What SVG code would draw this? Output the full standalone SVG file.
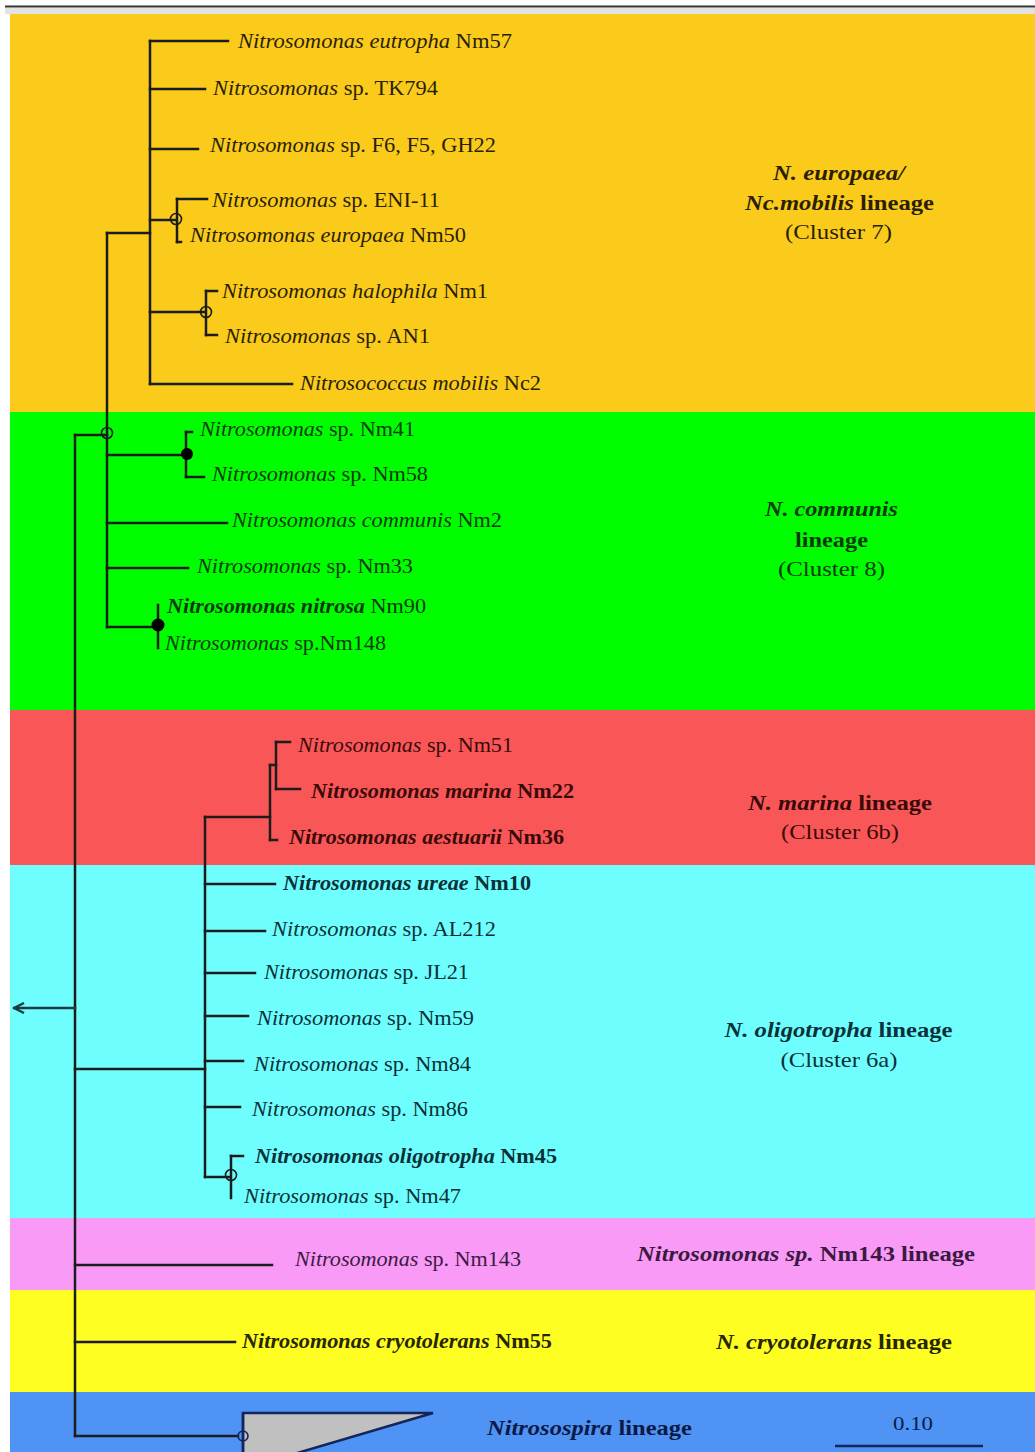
<svg xmlns="http://www.w3.org/2000/svg" width="1035" height="1452" viewBox="0 0 1035 1452">
<style>
  text { font-family: "Liberation Serif", "Times New Roman", serif; font-size: 22px; }
  .i { font-style: italic; }
  .b { font-weight: bold; }
  .bi { font-style: italic; font-weight: bold; }
  .mid { text-anchor: middle; }
  .br { stroke: #1c1c1c; stroke-width: 2.5; fill: none; stroke-linecap: square; }
  .nd { fill: none; stroke: #1c1c1c; stroke-width: 1.6; }
  .ndf { fill: #000; stroke: none; }
  .tor { fill: #2a1f05; } .tgr { fill: #0a3a0a; } .trd { fill: #3a0a0a; }
  .tcy { fill: #0a3038; } .tpk { fill: #3a1a40; } .tye { fill: #262600; } .tbl { fill: #0a1a45; }
</style>
<defs>
  <marker id="arr" viewBox="0 0 12 12" refX="11" refY="6" markerWidth="12" markerHeight="12" markerUnits="userSpaceOnUse" orient="auto">
    <path d="M1,1 L11,6 L1,11" fill="none" stroke="#1c3a40" stroke-width="2.4"/>
  </marker>
</defs>
<rect width="1035" height="1452" fill="#ffffff"/>
<g id="frame">
  <rect x="5" y="8" width="1030" height="6" fill="#e2e2e2"/>
  <line x1="5" y1="6.5" x2="1035" y2="6.5" stroke="#333" stroke-width="2"/>
</g>
<g id="bands">
  <rect x="10" y="14" width="1025" height="398" fill="#FACB1B"/>
  <rect x="10" y="412" width="1025" height="298" fill="#00FE00"/>
  <rect x="10" y="710" width="1025" height="155" fill="#F95757"/>
  <rect x="10" y="865" width="1025" height="353" fill="#6FFEFE"/>
  <rect x="10" y="1218" width="1025" height="72" fill="#F99BF6"/>
  <rect x="10" y="1290" width="1025" height="102" fill="#FEFE22"/>
  <rect x="10" y="1392" width="1025" height="60" fill="#4F93F5"/>
</g>
<g id="connectors">
  <!-- root -->
  <path class="br" d="M75,435 V1436"/>
  <path class="br" d="M75,1008 H14" style="stroke:#1c3a40" marker-end="url(#arr)"/>
  <path class="br" d="M75,435 H107"/>
  <path class="br" d="M75,1069 H205"/>
  <path class="br" d="M75,1265 H272"/>
  <path class="br" d="M75,1342 H235"/>
  <path class="br" d="M75,1436 H238"/>
  <!-- node 107 -->
  <path class="br" d="M107,233 V627"/>
  <path class="br" d="M107,233 H150"/>
  <path class="br" d="M107,455 H186"/>
  <path class="br" d="M107,523 H227"/>
  <path class="br" d="M107,568 H188"/>
  <path class="br" d="M107,627 H158"/>
  <!-- europaea cluster -->
  <path class="br" d="M150,41 V384"/>
  <path class="br" d="M150,41 H228"/>
  <path class="br" d="M150,89 H205"/>
  <path class="br" d="M150,149 H198"/>
  <path class="br" d="M150,220 H175"/>
  <path class="br" d="M177,199 V242"/>
  <path class="br" d="M177,199 H207"/>
  <path class="br" d="M177,242 H181"/>
  <path class="br" d="M150,312 H205"/>
  <path class="br" d="M206,291 V335"/>
  <path class="br" d="M206,291 H217"/>
  <path class="br" d="M206,335 H217"/>
  <path class="br" d="M150,384 H292"/>
  <!-- communis cluster -->
  <path class="br" d="M186,432 V477"/>
  <path class="br" d="M186,432 H192"/>
  <path class="br" d="M186,477 H204"/>
  <path class="br" d="M158,605 V648"/>
  <!-- marina / oligotropha -->
  <path class="br" d="M205,817 V1177"/>
  <path class="br" d="M205,817 H270"/>
  <path class="br" d="M270,765 V840"/>
  <path class="br" d="M270,765 H276"/>
  <path class="br" d="M270,840 H277"/>
  <path class="br" d="M276,742 V789"/>
  <path class="br" d="M276,742 H290"/>
  <path class="br" d="M276,789 H300"/>
  <path class="br" d="M205,884 H275"/>
  <path class="br" d="M205,931 H265"/>
  <path class="br" d="M205,973 H255"/>
  <path class="br" d="M205,1016 H248"/>
  <path class="br" d="M205,1061 H243"/>
  <path class="br" d="M205,1107 H240"/>
  <path class="br" d="M205,1177 H230"/>
  <path class="br" d="M231,1156 V1198"/>
  <path class="br" d="M231,1156 H243"/>
  <!-- Nitrosospira collapsed clade -->
  <polygon points="243,1413 433,1413 243,1469" fill="#c0c0c0" stroke="#13255a" stroke-width="2.5"/>
  <line x1="243" y1="1413" x2="243" y2="1452" stroke="#13255a" stroke-width="2.5"/>
  <!-- scale bar -->
  <line x1="835" y1="1446" x2="983" y2="1446" stroke="#13255a" stroke-width="2.5"/>
</g>
<g id="internal-nodes">
  <circle class="nd" cx="107" cy="433" r="5.5"/>
  <circle class="nd" cx="176" cy="219" r="5.5"/>
  <circle class="nd" cx="206" cy="312" r="5.5"/>
  <circle class="ndf" cx="187" cy="454" r="6"/>
  <circle class="ndf" cx="158" cy="625" r="6.5"/>
  <circle class="nd" cx="231" cy="1175" r="5.5"/>
  <circle class="nd" cx="243" cy="1436" r="5" style="stroke:#13255a"/>
</g>
<g id="taxa">
  <g id="n-eutropha"><text class="tor" x="238" y="48" textLength="274" lengthAdjust="spacingAndGlyphs"><tspan class="i">Nitrosomonas eutropha</tspan> Nm57</text></g>
  <g id="n-tk794"><text class="tor" x="213" y="95" textLength="225" lengthAdjust="spacingAndGlyphs"><tspan class="i">Nitrosomonas</tspan> sp. TK794</text></g>
  <g id="n-f6"><text class="tor" x="210" y="152" textLength="286" lengthAdjust="spacingAndGlyphs"><tspan class="i">Nitrosomonas</tspan> sp. F6, F5, GH22</text></g>
  <g id="n-eni11"><text class="tor" x="212" y="207" textLength="228" lengthAdjust="spacingAndGlyphs"><tspan class="i">Nitrosomonas</tspan> sp. ENI-11</text></g>
  <g id="n-europaea"><text class="tor" x="190" y="242" textLength="276" lengthAdjust="spacingAndGlyphs"><tspan class="i">Nitrosomonas europaea</tspan> Nm50</text></g>
  <g id="n-halophila"><text class="tor" x="222" y="298" textLength="266" lengthAdjust="spacingAndGlyphs"><tspan class="i">Nitrosomonas halophila</tspan> Nm1</text></g>
  <g id="n-an1"><text class="tor" x="225" y="343" textLength="205" lengthAdjust="spacingAndGlyphs"><tspan class="i">Nitrosomonas</tspan> sp. AN1</text></g>
  <g id="n-mobilis"><text class="tor" x="300" y="390" textLength="241" lengthAdjust="spacingAndGlyphs"><tspan class="i">Nitrosococcus mobilis</tspan> Nc2</text></g>
  <g id="n-nm41"><text class="tgr" x="200" y="436" textLength="215" lengthAdjust="spacingAndGlyphs"><tspan class="i">Nitrosomonas</tspan> sp. Nm41</text></g>
  <g id="n-nm58"><text class="tgr" x="212" y="481" textLength="216" lengthAdjust="spacingAndGlyphs"><tspan class="i">Nitrosomonas</tspan> sp. Nm58</text></g>
  <g id="n-communis"><text class="tgr" x="232" y="527" textLength="270" lengthAdjust="spacingAndGlyphs"><tspan class="i">Nitrosomonas communis</tspan> Nm2</text></g>
  <g id="n-nm33"><text class="tgr" x="197" y="573" textLength="216" lengthAdjust="spacingAndGlyphs"><tspan class="i">Nitrosomonas</tspan> sp. Nm33</text></g>
  <g id="n-nitrosa"><text class="tgr" x="167" y="613" textLength="259" lengthAdjust="spacingAndGlyphs"><tspan class="bi">Nitrosomonas nitrosa</tspan> Nm90</text></g>
  <g id="n-nm148"><text class="tgr" x="165" y="650" textLength="221" lengthAdjust="spacingAndGlyphs"><tspan class="i">Nitrosomonas</tspan> sp.Nm148</text></g>
  <g id="n-nm51"><text class="trd" x="298" y="752" textLength="215" lengthAdjust="spacingAndGlyphs"><tspan class="i">Nitrosomonas</tspan> sp. Nm51</text></g>
  <g id="n-marina"><text class="trd b" x="311" y="798" textLength="263" lengthAdjust="spacingAndGlyphs"><tspan class="bi">Nitrosomonas marina</tspan> Nm22</text></g>
  <g id="n-aestuarii"><text class="trd b" x="289" y="844" textLength="275" lengthAdjust="spacingAndGlyphs"><tspan class="bi">Nitrosomonas aestuarii</tspan> Nm36</text></g>
  <g id="n-ureae"><text class="tcy b" x="283" y="890" textLength="248" lengthAdjust="spacingAndGlyphs"><tspan class="bi">Nitrosomonas ureae</tspan> Nm10</text></g>
  <g id="n-al212"><text class="tcy" x="272" y="936" textLength="224" lengthAdjust="spacingAndGlyphs"><tspan class="i">Nitrosomonas</tspan> sp. AL212</text></g>
  <g id="n-jl21"><text class="tcy" x="264" y="979" textLength="205" lengthAdjust="spacingAndGlyphs"><tspan class="i">Nitrosomonas</tspan> sp. JL21</text></g>
  <g id="n-nm59"><text class="tcy" x="257" y="1025" textLength="217" lengthAdjust="spacingAndGlyphs"><tspan class="i">Nitrosomonas</tspan> sp. Nm59</text></g>
  <g id="n-nm84"><text class="tcy" x="254" y="1071" textLength="217" lengthAdjust="spacingAndGlyphs"><tspan class="i">Nitrosomonas</tspan> sp. Nm84</text></g>
  <g id="n-nm86"><text class="tcy" x="252" y="1116" textLength="216" lengthAdjust="spacingAndGlyphs"><tspan class="i">Nitrosomonas</tspan> sp. Nm86</text></g>
  <g id="n-oligotropha"><text class="tcy b" x="255" y="1163" textLength="302" lengthAdjust="spacingAndGlyphs"><tspan class="bi">Nitrosomonas oligotropha</tspan> Nm45</text></g>
  <g id="n-nm47"><text class="tcy" x="244" y="1203" textLength="217" lengthAdjust="spacingAndGlyphs"><tspan class="i">Nitrosomonas</tspan> sp. Nm47</text></g>
  <g id="n-nm143"><text class="tpk" x="295" y="1266" textLength="226" lengthAdjust="spacingAndGlyphs"><tspan class="i">Nitrosomonas</tspan> sp. Nm143</text></g>
  <g id="n-cryotolerans"><text class="tye b" x="242" y="1348" textLength="310" lengthAdjust="spacingAndGlyphs"><tspan class="bi">Nitrosomonas cryotolerans</tspan> Nm55</text></g>
</g>
<g id="lineages">
  <g id="l-cluster7">
    <text class="tor bi mid" x="839" y="180" textLength="132" lengthAdjust="spacingAndGlyphs">N. europaea/</text>
    <text class="tor b mid" x="839.5" y="210" textLength="189" lengthAdjust="spacingAndGlyphs"><tspan class="bi">Nc.mobilis</tspan> lineage</text>
    <text class="tor mid" x="838.5" y="239" textLength="107" lengthAdjust="spacingAndGlyphs">(Cluster 7)</text>
  </g>
  <g id="l-cluster8">
    <text class="tgr bi mid" x="831.5" y="516" textLength="133" lengthAdjust="spacingAndGlyphs">N. communis</text>
    <text class="tgr b mid" x="831.5" y="547" textLength="73" lengthAdjust="spacingAndGlyphs">lineage</text>
    <text class="tgr mid" x="831.5" y="576" textLength="107" lengthAdjust="spacingAndGlyphs">(Cluster 8)</text>
  </g>
  <g id="l-cluster6b">
    <text class="trd b mid" x="840" y="810" textLength="184" lengthAdjust="spacingAndGlyphs"><tspan class="bi">N. marina</tspan> lineage</text>
    <text class="trd mid" x="840" y="839" textLength="118" lengthAdjust="spacingAndGlyphs">(Cluster 6b)</text>
  </g>
  <g id="l-cluster6a">
    <text class="tcy b mid" x="838.5" y="1037" textLength="228" lengthAdjust="spacingAndGlyphs"><tspan class="bi">N. oligotropha</tspan> lineage</text>
    <text class="tcy mid" x="839" y="1067" textLength="117" lengthAdjust="spacingAndGlyphs">(Cluster 6a)</text>
  </g>
  <g id="l-nm143">
    <text class="tpk b mid" x="806" y="1261" textLength="338" lengthAdjust="spacingAndGlyphs"><tspan class="bi">Nitrosomonas sp.</tspan> Nm143 lineage</text>
  </g>
  <g id="l-cryotolerans">
    <text class="tye b mid" x="834" y="1349" textLength="236" lengthAdjust="spacingAndGlyphs"><tspan class="bi">N. cryotolerans</tspan> lineage</text>
  </g>
  <g id="l-nitrosospira">
    <text class="tbl b mid" x="589.5" y="1435" textLength="205" lengthAdjust="spacingAndGlyphs"><tspan class="bi">Nitrosospira</tspan> lineage</text>
  </g>
  <g id="scale-label">
    <text class="tbl mid" x="913" y="1430" style="font-size:18px" textLength="40" lengthAdjust="spacingAndGlyphs">0.10</text>
  </g>
</g>
</svg>
